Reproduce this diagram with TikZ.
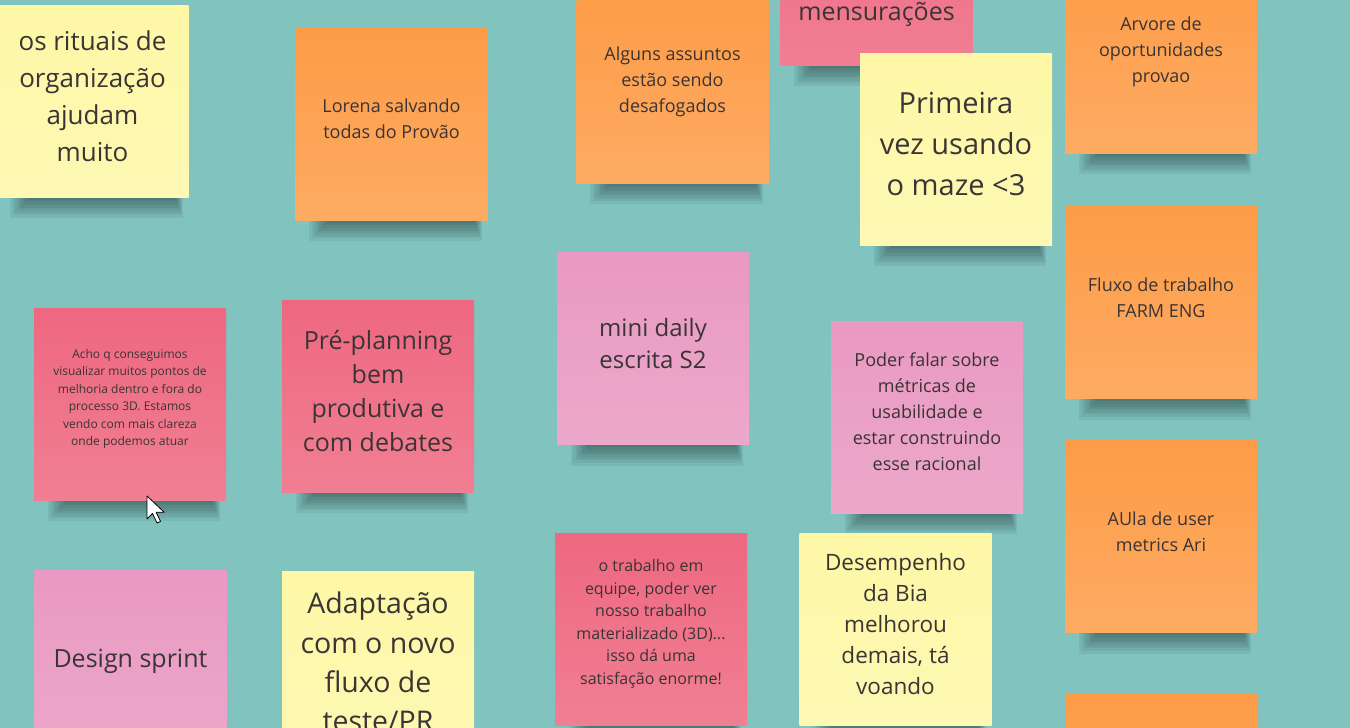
\documentclass[tikz,border=0pt]{standalone}
\usepackage{fontspec}
\setmainfont{Open Sans}
\pgfdeclarelayer{board}
\pgfdeclarelayer{shade}
\pgfsetlayers{board,shade,main}
\definecolor{board}{HTML}{80C3BF}
\definecolor{ink}{HTML}{3A3434}
\definecolor{noteyellow}{HTML}{FDF7A6}
\definecolor{noteorange}{HTML}{FD9C47}
\definecolor{notered}{HTML}{EE6880}
\definecolor{notepink}{HTML}{E999C2}

\begin{document}
\begin{tikzpicture}[x=1pt,y=-1pt,
    note/.style={rectangle, minimum width=192pt, minimum height=192pt,
        inner sep=0pt},
    yel/.style={note, top color=noteyellow, bottom color=noteyellow!85!white},
    ora/.style={note, top color=noteorange, bottom color=noteorange!85!white},
    red/.style={note, top color=notered, bottom color=notered!85!white},
    pnk/.style={note, top color=notepink, bottom color=notepink!85!white},
    words/.style={align=center, text=ink, inner sep=0pt},
    txt/.style 2 args={words, font=\fontsize{#1}{#2}\selectfont}]

    \pgfmathsetmacro{\up}{5}

    \useasboundingbox (0,0) rectangle (1350,728);
    \clip (0,0) rectangle (1350,728);

    % Draw the notes, top row
    \node [yel] (rituais) at (92.5,101) {};
    \node [ora] (lorena) at (391.5,124) {};
    \node [ora] (assuntos) at (672.5,87) {};
    \node [red] (mensur) at (876.5,-31) {};
    \node [yel] (primeira) at (956,149) {};
    \node [ora] (arvore) at (1161,57) {};

    % Draw the notes, middle row
    \node [ora] (fluxo) at (1161,302.5) {};
    \node [red] (acho) at (130,404) {};
    \node [red] (preplan) at (378,396) {};
    \node [pnk] (daily) at (653,348.5) {};
    \node [pnk] (poder) at (927,417) {};
    \node [ora] (aula) at (1161,536.5) {};

    % Draw the notes, bottom row
    \node [pnk] (design) at (130.5,666) {};
    \node [yel] (adapt) at (378,667) {};
    \node [red] (trabalho) at (651,629) {};
    \node [yel] (desemp) at (895.5,629) {};
    \node [ora] (ultima) at (1162,789) {};

    % Board and soft shadows under the notes
    \begin{pgfonlayer}{board}
        \fill [board] (0,0) rectangle (1350,728);
    \end{pgfonlayer}
    \begin{pgfonlayer}{shade}
        \foreach \n in {rituais,lorena,assuntos,mensur,primeira,arvore,fluxo,
                acho,preplan,daily,poder,aula,design,adapt,trabalho,desemp} {
            \foreach \k in {1,...,8}
                \fill [black, opacity=0.055]
                    ([xshift=34-2.5*\k, yshift=10]\n.south west) rectangle
                    ([xshift=-14+\k, yshift=-2.6*\k]\n.south east);
        }
    \end{pgfonlayer}

    % Write the texts on the notes
    \node [txt={26}{37}] (rituaistxt) at ([yshift=\up pt]rituais.center)
        {os rituais de\\organização\\ajudam\\muito};
    \node [txt={18}{26}] (lorenatxt) at ([yshift=\up pt]lorena.center)
        {Lorena salvando\\todas do Provão};
    \node [txt={18}{26}] (assuntostxt) at ([yshift=\up pt]assuntos.center)
        {Alguns assuntos\\estão sendo\\desafogados};
    \node [txt={25}{34}] (mensurtxt) at (876.5,14) {mensurações};
    \node [txt={29}{41}] (primeiratxt) at ([yshift=\up pt]primeira.center)
        {Primeira\\vez usando\\o maze <3};
    \node [txt={18}{26}] (arvoretxt) at ([yshift=\up pt]arvore.center)
        {Arvore de\\oportunidades\\provao};
    \node [txt={18}{26}] (fluxotxt) at ([yshift=\up pt]fluxo.center)
        {Fluxo de trabalho\\FARM ENG};
    \node [txt={12}{17.5}] (achotxt) at ([yshift=\up pt]acho.center)
        {Acho q conseguimos\\visualizar muitos pontos de\\melhoria dentro e fora do\\processo 3D. Estamos\\vendo com mais clareza\\onde podemos atuar};
    \node [txt={25}{34.3}] (preplantxt) at ([yshift=\up pt]preplan.center)
        {Pré-planning\\bem\\produtiva e\\com debates};
    \node [txt={24}{32}] (dailytxt) at ([yshift=\up pt]daily.center)
        {mini daily\\escrita S2};
    \node [txt={18}{26}] (podertxt) at ([yshift=\up pt]poder.center)
        {Poder falar sobre\\métricas de\\usabilidade e\\estar construindo\\esse racional};
    \node [txt={18}{26}] (aulatxt) at ([yshift=\up pt]aula.center)
        {AUla de user\\metrics Ari};
    \node [txt={25}{34}] (designtxt) at ([yshift=\up pt]design.center)
        {Design sprint};
    \node [txt={28.5}{39.3}] (adapttxt) at ([yshift=\up pt]adapt.center)
        {Adaptação\\com o novo\\fluxo de\\teste/PR};
    \node [txt={16}{22.5}] (trabalhotxt) at ([yshift=\up pt]trabalho.center)
        {o trabalho em\\equipe, poder ver\\nosso trabalho\\materializado (3D)...\\isso dá uma\\satisfação enorme!};
    \node [txt={22.5}{31}] (desemptxt) at ([yshift=\up pt]desemp.center)
        {Desempenho\\da Bia\\melhorou\\demais, tá\\voando};

    % Draw the mouse pointer
    \draw [fill=white, line join=round, line width=0.8pt] (147,496) -- ++(0,23)
        -- ++(5.5,-5.5) -- ++(4.5,9.5) -- ++(3.5,-1.6) -- ++(-4.3,-9.2)
        -- ++(8,0) -- cycle;

\end{tikzpicture}
\end{document}
